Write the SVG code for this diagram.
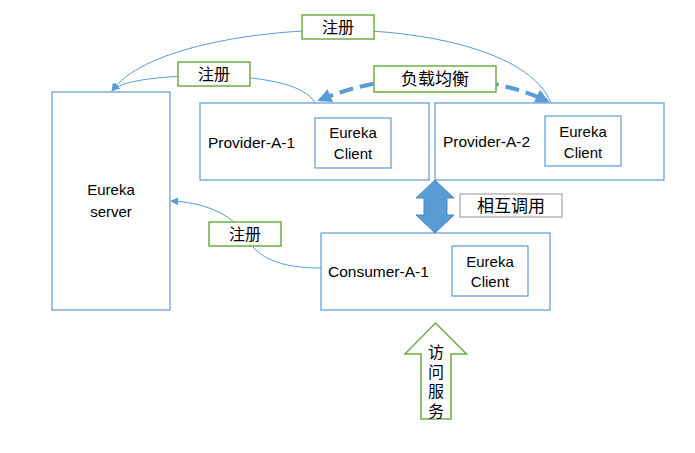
<svg xmlns="http://www.w3.org/2000/svg" width="695" height="453" viewBox="0 0 695 453">
<defs>
<style>
.box{fill:#fff;stroke:#5B9BD5;stroke-width:1.2}
.lbl{fill:#fff;stroke:#70AD47;stroke-width:1.5}
.t{font-family:"Liberation Sans",Arial,sans-serif;fill:#000}
.c{font-family:"Noto Sans CJK SC","Liberation Sans",sans-serif;fill:#000}
.thin{fill:none;stroke:#5B9BD5;stroke-width:1}
.dash{fill:none;stroke:#5B9BD5;stroke-width:4;stroke-dasharray:14 7}
</style>
<marker id="ah" viewBox="0 0 10 10" refX="9" refY="5" markerWidth="8" markerHeight="8" markerUnits="userSpaceOnUse" orient="auto"><path d="M0,0 L10,5 L0,10 z" fill="#5B9BD5"/></marker>
<marker id="bh" viewBox="0 0 10 10" refX="8" refY="5" markerWidth="16" markerHeight="14" markerUnits="userSpaceOnUse" orient="auto"><path d="M0,0 L10,5 L0,10 z" fill="#5B9BD5"/></marker>
<marker id="bhs" viewBox="0 0 10 10" refX="2" refY="5" markerWidth="16" markerHeight="14" markerUnits="userSpaceOnUse" orient="auto"><path d="M10,0 L0,5 L10,10 z" fill="#5B9BD5"/></marker>
</defs>

<g id="eureka-server">
<rect class="box" x="52" y="92" width="118" height="218"/>
<text class="t" font-size="15" x="111" y="195" text-anchor="middle">Eureka</text>
<text class="t" font-size="15" x="111" y="217" text-anchor="middle">server</text>
</g>

<g id="provider-a-1">
<rect class="box" x="200" y="103" width="229" height="77"/>
<text class="t" font-size="15.5" x="208" y="148">Provider-A-1</text>
<rect class="box" x="315" y="118" width="76" height="50"/>
<text class="t" font-size="15" x="353" y="138" text-anchor="middle">Eureka</text>
<text class="t" font-size="15" x="353" y="159" text-anchor="middle">Client</text>
</g>

<g id="provider-a-2">
<rect class="box" x="435" y="103" width="229" height="77"/>
<text class="t" font-size="15.5" x="443" y="147">Provider-A-2</text>
<rect class="box" x="545" y="116" width="76" height="50"/>
<text class="t" font-size="15" x="583" y="137" text-anchor="middle">Eureka</text>
<text class="t" font-size="15" x="583" y="158" text-anchor="middle">Client</text>
</g>

<g id="consumer-a-1">
<rect class="box" x="321" y="233" width="229" height="77"/>
<text class="t" font-size="15.5" x="328" y="277">Consumer-A-1</text>
<rect class="box" x="452" y="246" width="76" height="50"/>
<text class="t" font-size="15" x="490" y="267" text-anchor="middle">Eureka</text>
<text class="t" font-size="15" x="490" y="287" text-anchor="middle">Client</text>
</g>

<g id="connectors">
<path class="thin" d="M551 103 C530 50, 420 30, 338 30 C250 30, 140 50, 112 91" marker-end="url(#ah)"/>
<path class="thin" d="M315 103 C305 85, 270 78, 214 75 C160 76, 125 80, 112 90" marker-end="url(#ah)"/>
<path class="thin" d="M321 268 C280 268, 255 258, 245 234 C230 212, 200 202, 171 201" marker-end="url(#ah)"/>
<path class="dash" d="M320 100 C360 83, 400 78, 435 78 C480 78, 520 88, 547 101" marker-start="url(#bhs)" marker-end="url(#bh)"/>
<path d="M435 180 L454 198 L447 198 L447 215 L454 215 L435 233 L416 215 L424 215 L424 198 L416 198 Z" fill="#5B9BD5" stroke="#4A89C4" stroke-width="1"/>
</g>

<g id="label-reg-top">
<rect class="lbl" x="302" y="15" width="72" height="24"/>
<text class="c" font-size="16" x="338" y="33" text-anchor="middle">注册</text>
</g>
<g id="label-reg-mid">
<rect class="lbl" x="178" y="62" width="72" height="24"/>
<text class="c" font-size="16" x="214" y="80" text-anchor="middle">注册</text>
</g>
<g id="label-lb">
<rect class="lbl" x="374" y="66" width="122" height="26"/>
<text class="c" font-size="17" x="435" y="85" text-anchor="middle">负载均衡</text>
</g>
<g id="label-reg-low">
<rect class="lbl" x="209" y="222" width="72" height="24"/>
<text class="c" font-size="16" x="245" y="240" text-anchor="middle">注册</text>
</g>
<g id="label-call">
<rect x="460" y="194" width="102" height="23" fill="#fff" stroke="#A5A5A5" stroke-width="1.2"/>
<text class="c" font-size="17" x="511" y="212" text-anchor="middle" fill="#404040">相互调用</text>
</g>

<g id="access-arrow">
<path d="M435.5 323 L466.5 354 L451 354 L451 419 L421 419 L421 354 L405 354 Z" fill="#fff" stroke="#70AD47" stroke-width="1.5"/>
<text class="c" font-size="16" x="436" y="344" writing-mode="vertical-rl" letter-spacing="3.5">访问服务</text>
</g>
</svg>
